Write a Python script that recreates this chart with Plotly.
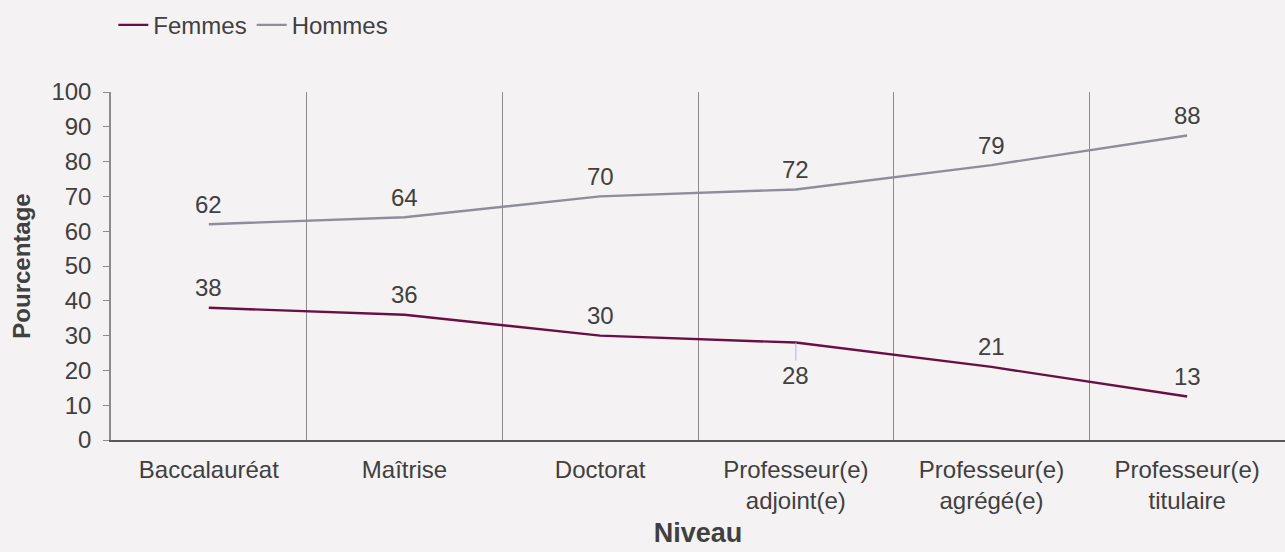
import plotly.graph_objects as go

categories = ["Baccalauréat", "Maîtrise", "Doctorat", "Professeur(e)<br>adjoint(e)",
              "Professeur(e)<br>agrégé(e)", "Professeur(e)<br>titulaire"]
femmes = [38, 36, 30, 28, 21, 12.5]
hommes = [62, 64, 70, 72, 79, 87.5]
femmes_labels = ["38", "36", "30", "28", "21", "13"]
hommes_labels = ["62", "64", "70", "72", "79", "88"]
y_ticks = [0, 10, 20, 30, 40, 50, 60, 70, 80, 90, 100]

C_F = "#6a0f45"
C_H = "#8e8e99"
TXT = "#404040"
BG = "#f5f2f3"
FONT = "Liberation Sans, Arial, sans-serif"
FS = 24

fig = go.Figure()
fig.add_trace(go.Scatter(x=categories, y=femmes, mode="lines", name="Femmes",
                         line=dict(color=C_F, width=2.4)))
fig.add_trace(go.Scatter(x=categories, y=hommes, mode="lines", name="Hommes",
                         line=dict(color=C_H, width=2.4)))

annotations = []
for i, c in enumerate(categories):
    annotations.append(dict(x=c, y=hommes[i], text=hommes_labels[i], showarrow=False,
                            yshift=20, font=dict(size=FS, color=TXT, family=FONT)))
    if i == 3:
        annotations.append(dict(x=c, y=femmes[i], text=femmes_labels[i], showarrow=True,
                                ax=0, ay=33, arrowhead=0, arrowwidth=1, arrowcolor="#b0b0e0",
                                standoff=0, font=dict(size=FS, color=TXT, family=FONT)))
    else:
        annotations.append(dict(x=c, y=femmes[i], text=femmes_labels[i], showarrow=False,
                                yshift=20, font=dict(size=FS, color=TXT, family=FONT)))

fig.update_layout(
    width=1285, height=552,
    paper_bgcolor=BG, plot_bgcolor=BG,
    margin=dict(l=111, r=0, t=92, b=112),
    font=dict(family=FONT, size=FS, color=TXT),
    showlegend=True,
    legend=dict(orientation="h", x=0.002, xanchor="left", y=0.995, yref="container",
                yanchor="top", font=dict(size=FS, color=TXT), bgcolor="rgba(0,0,0,0)",
                itemwidth=30, tracegroupgap=0),
    annotations=annotations,
    xaxis=dict(
        type="category", tickson="boundaries", showgrid=True, gridcolor="#8c8c8c",
        gridwidth=1, showline=True, linecolor="#595959", linewidth=1.5,
        ticks="", tickfont=dict(size=FS, color=TXT), range=[-0.5, 5.5],
        ticklabelstandoff=7,
        title=dict(text="<b>Niveau</b>", font=dict(size=27, color=TXT), standoff=10),
        zeroline=False,
    ),
    yaxis=dict(
        range=[0, 100], tickvals=y_ticks, showgrid=False, showline=True,
        linecolor="#8c8c8c", linewidth=1.5, ticks="outside", ticklen=6,
        tickcolor="#8c8c8c", tickfont=dict(size=FS, color=TXT), zeroline=False,
        ticklabelstandoff=7,
        title=dict(text="<b>Pourcentage</b>", font=dict(size=FS, color=TXT), standoff=14),
    ),
)

fig.write_html("out.html", config={"displayModeBar": False},
               post_script="document.body.style.margin='0';")
